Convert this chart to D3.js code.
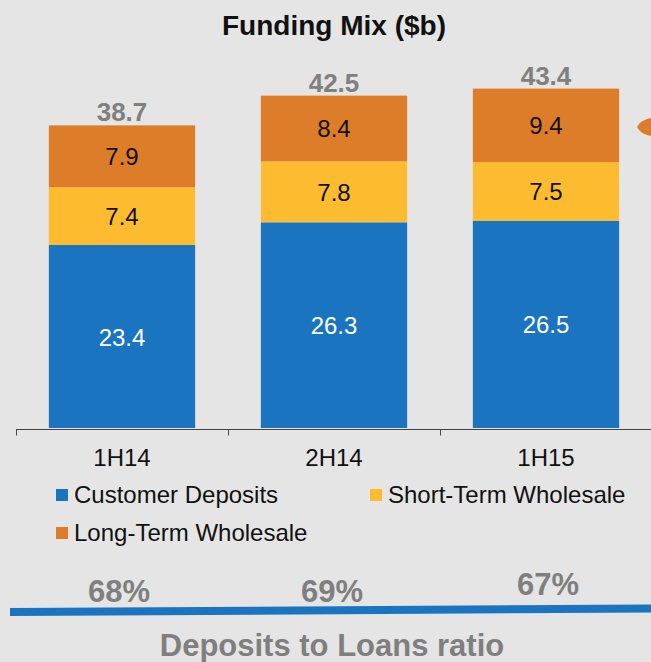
<!DOCTYPE html>
<html>
<head>
<meta charset="utf-8">
<script src="https://cdn.jsdelivr.net/npm/d3@7"></script>
<style>
  body { margin: 0; background: #e4e5e4; }
  svg { display: block; font-family: "Liberation Sans", Arial, sans-serif; }
</style>
</head>
<body>
<div id="chart"></div>
<script>
var categories = ["1H14", "2H14", "1H15"]
var customerDeposits = [23.4, 26.3, 26.5]
var shortTerm = [7.4, 7.8, 7.5]
var longTerm = [7.9, 8.4, 9.4]
var totals = [38.7, 42.5, 43.4]
var ratios = ["68%", "69%", "67%"]
var seriesNames = ["Customer Deposits", "Short-Term Wholesale", "Long-Term Wholesale"]
var colors = ["#1b74c0", "#fdbb30", "#dd7d2a"]
var labelColors = ["#ffffff", "#111111", "#111111"]

var width = 651, height = 662
var base = 428

var svg = d3.select("#chart").append("svg")
    .attr("width", width)
    .attr("height", height)

svg.append("rect")
    .attr("width", width)
    .attr("height", height)
    .attr("fill", "#e4e5e4")

var x = d3.scaleBand()
    .domain(categories)
    .range([16, 652])
    .paddingInner(0.31)
    .paddingOuter(0.155)

var y = d3.scaleLinear()
    .domain([0, 45])
    .range([base, base - 45 * 7.82])

// stacked data
var rows = categories.map(function(c, i) {
    return { cat: c, s0: customerDeposits[i], s1: shortTerm[i], s2: longTerm[i] }
})
var stack = d3.stack().keys(["s0", "s1", "s2"])(rows)

// title
svg.append("text")
    .attr("x", 334)
    .attr("y", 35)
    .attr("text-anchor", "middle")
    .attr("font-size", 28)
    .attr("font-weight", "bold")
    .attr("fill", "#111")
    .text("Funding Mix ($b)")

var layers = svg.selectAll("g.layer")
    .data(stack)
    .enter().append("g")
    .attr("class", "layer")

layers.selectAll("rect")
    .data(function(d) { return d })
    .enter().append("rect")
    .attr("x", function(d) { return x(d.data.cat) })
    .attr("width", x.bandwidth())
    .attr("y", function(d) { return y(d[1]) })
    .attr("height", function(d) { return y(d[0]) - y(d[1]) })
    .attr("fill", function(d, i, n) { return colors[d3.select(n[i].parentNode).datum().index] })

layers.each(function(layer) {
    d3.select(this).selectAll("text")
        .data(layer)
        .enter().append("text")
        .attr("x", function(d) { return x(d.data.cat) + x.bandwidth() / 2 })
        .attr("y", function(d) { return (y(d[0]) + y(d[1])) / 2 + 9 })
        .attr("text-anchor", "middle")
        .attr("font-size", 24)
        .attr("fill", labelColors[layer.index])
        .text(function(d) { return (d[1] - d[0]).toFixed(1) })
})

// totals
svg.selectAll("text.total")
    .data(totals)
    .enter().append("text")
    .attr("class", "total")
    .attr("x", function(d, i) { return x(categories[i]) + x.bandwidth() / 2 })
    .attr("y", function(d) { return y(d) - 4 })
    .attr("text-anchor", "middle")
    .attr("font-size", 26)
    .attr("font-weight", "bold")
    .attr("fill", "#808080")
    .text(function(d) { return d.toFixed(1) })

// axis
var axisG = svg.append("g")
    .attr("transform", "translate(0," + (base + 1.5) + ")")
axisG.append("line")
    .attr("x1", 16).attr("x2", 652)
    .attr("stroke", "#444").attr("stroke-width", 1)
var step = x.step()
axisG.selectAll("line.tick")
    .data(d3.range(categories.length + 1))
    .enter().append("line")
    .attr("class", "tick")
    .attr("x1", function(d) { return 16.5 + d * step })
    .attr("x2", function(d) { return 16.5 + d * step })
    .attr("y1", 0).attr("y2", 6)
    .attr("stroke", "#444")
axisG.selectAll("text")
    .data(categories)
    .enter().append("text")
    .attr("x", function(d) { return x(d) + x.bandwidth() / 2 })
    .attr("y", 36)
    .attr("text-anchor", "middle")
    .attr("font-size", 24)
    .attr("fill", "#111")
    .text(function(d) { return d })

// legend
var legendPos = [[56, 495], [370, 495], [56, 533]]
var legend = svg.selectAll("g.legend")
    .data(seriesNames)
    .enter().append("g")
    .attr("class", "legend")
    .attr("transform", function(d, i) { return "translate(" + legendPos[i][0] + "," + legendPos[i][1] + ")" })
legend.append("rect")
    .attr("x", 0).attr("y", -6)
    .attr("width", 12).attr("height", 12)
    .attr("fill", function(d, i) { return colors[i] })
legend.append("text")
    .attr("x", 18).attr("y", 7.5)
    .attr("font-size", 24)
    .attr("fill", "#111")
    .text(function(d) { return d })

// orange arrow on the right edge
svg.append("path")
    .attr("d", "M637,127 C640,121 646,119 651,118 L651,136 C646,135 640,133 637,127 Z")
    .attr("fill", colors[2])

// deposits to loans ratio
var ratioY = [602, 602, 595]
var ratioX = [119, 332, 548]
svg.selectAll("text.ratio")
    .data(ratios)
    .enter().append("text")
    .attr("class", "ratio")
    .attr("x", function(d, i) { return ratioX[i] })
    .attr("y", function(d, i) { return ratioY[i] })
    .attr("text-anchor", "middle")
    .attr("font-size", 31)
    .attr("font-weight", "bold")
    .attr("fill", "#7f7f7f")
    .text(function(d) { return d })

svg.append("path")
    .attr("d", "M10,612 L651,608.5")
    .attr("stroke", "#1b74c0")
    .attr("stroke-width", 8)
    .attr("fill", "none")

svg.append("text")
    .attr("x", 332)
    .attr("y", 656)
    .attr("text-anchor", "middle")
    .attr("font-size", 31)
    .attr("font-weight", "bold")
    .attr("fill", "#7f7f7f")
    .text("Deposits to Loans ratio")
</script>
</body>
</html>
